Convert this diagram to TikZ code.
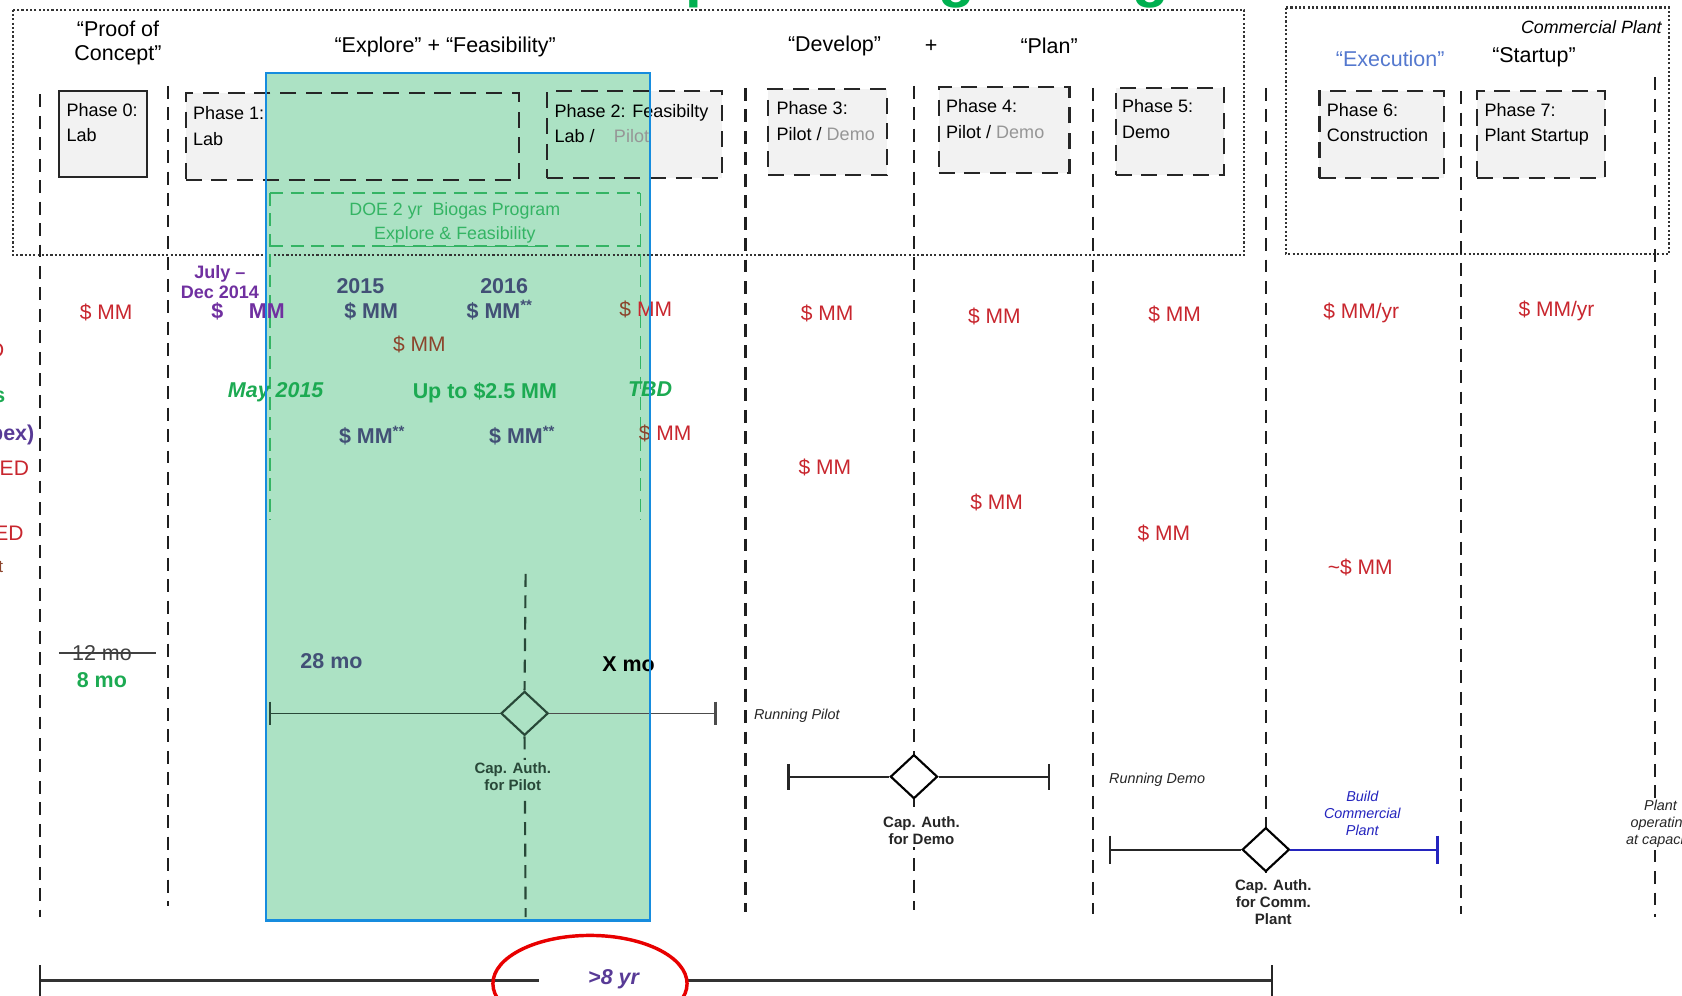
\documentclass[tikz,border=0pt]{standalone}
\usepackage{fontspec}
\setmainfont{Liberation Sans}
\usetikzlibrary{shapes.geometric}
\definecolor{mred}{RGB}{200,38,46}
\definecolor{mbrown}{RGB}{140,68,44}
\definecolor{slate}{RGB}{66,80,118}
\definecolor{gbold}{RGB}{28,170,82}
\definecolor{glight}{RGB}{52,180,100}
\definecolor{gtitle}{RGB}{0,176,80}
\definecolor{purp}{RGB}{112,48,160}
\definecolor{purp2}{RGB}{88,58,150}
\definecolor{execblue}{RGB}{84,120,206}
\definecolor{buildblue}{RGB}{36,36,190}
\definecolor{pgray}{RGB}{150,150,150}
\definecolor{gzfill}{RGB}{172,226,196}
\definecolor{gzborder}{RGB}{22,140,222}
\definecolor{boxgray}{RGB}{242,242,242}
\definecolor{darkg}{RGB}{40,72,56}
\definecolor{ellred}{RGB}{232,0,0}
\pgfdeclarelayer{back}
\pgfdeclarelayer{greenl}
\pgfsetlayers{back,greenl,main}
\begin{document}
\begin{tikzpicture}[x=0.5pt,y=-0.5pt,
  vdash/.style={draw=black!88, line width=1pt, dash pattern=on 6pt off 4pt},
  phasebox/.style={draw=black!85, line width=1pt, dash pattern=on 7.5pt off 4.5pt, rectangle, inner sep=0pt, outer sep=0pt},
  dotbox/.style={draw=black!80, line width=1pt, dash pattern=on 1pt off 1pt},
  doeline/.style={draw=glight, line width=0.8pt, dash pattern=on 6pt off 3.5pt},
  txt/.style={inner sep=0pt, outer sep=0pt},
  head/.style={txt, font=\fontsize{10}{11.5}\selectfont, align=center},
  ph/.style={txt, font=\fontsize{8.4}{12}\selectfont, align=left, anchor=north west},
  money/.style={txt, font=\fontsize{9.8}{11}\selectfont, text=mred},
  sl/.style={txt, font=\bfseries\fontsize{10}{11}\selectfont, text=slate},
  gb/.style={txt, font=\bfseries\fontsize{10}{11}\selectfont, text=gbold},
  gbi/.style={txt, font=\bfseries\itshape\fontsize{10}{11}\selectfont, text=gbold},
  captxt/.style={txt, font=\bfseries\fontsize{7}{8}\selectfont, align=center, text=black!85, inner sep=1pt},
  run/.style={txt, font=\itshape\fontsize{6.7}{8}\selectfont, text=black!85},
  bar/.style={draw=black!85, line width=1pt},
  tickline/.style={draw=black!85, line width=1pt},
  dia/.style={diamond, draw=black, line width=1pt, inner sep=0pt, minimum width=22pt, minimum height=20.5pt, fill=white},
  ttl/.style={txt, font=\bfseries\fontsize{28}{30}\selectfont, text=gtitle, anchor=base},
]
\useasboundingbox (0,0) rectangle (1568,928);

% cut-off title letters at the top edge (cropped in the reference)
\node[ttl] (tp) at (656,-4) {p};
\node[ttl] (tg1) at (892,-4) {g};
\node[ttl] (tg2) at (1073,-4) {g};

% green zone fill
\coordinate (gzA) at (248,68);
\coordinate (gzB) at (606,858);
\begin{pgfonlayer}{greenl}
\fill[gzfill] (gzA) rectangle (gzB);
\end{pgfonlayer}

% dotted group boxes
\draw[dotbox] (12,9) rectangle (1160,238);
\draw[dotbox] (1199,7) rectangle (1556,237);

% vertical dashed separators
\foreach \n/\x/\a/\b in {0/37/88/855, 1/157/80/845, 2/695/82/850, 3/852/80/848, 4/1019/82/852, 5/1180/82/850, 6/1362/85/852, 7/1543/72/855}{
  \coordinate (vt\n) at (\x,\a);
  \coordinate (vb\n) at (\x,\b);
  \draw[vdash] (vt\n) -- (vb\n);
}

% phase boxes
\node[phasebox, solid, line width=1pt, minimum width=41pt, minimum height=40pt] (p0) at (96,125) {};
\node[phasebox, minimum width=155.5pt, minimum height=40.5pt] (p1) at (328.5,127.5) {};
\node[phasebox, minimum width=81.5pt, minimum height=40.5pt] (p2) at (591.5,125.5) {};
\node[phasebox, minimum width=55.5pt, minimum height=40pt] (p3) at (771.5,123) {};
\node[phasebox, minimum width=61pt, minimum height=40pt] (p4) at (936,121) {};
\node[phasebox, minimum width=50.5pt, minimum height=40.5pt] (p5) at (1090.5,122.5) {};
\node[phasebox, minimum width=58pt, minimum height=40.5pt] (p6) at (1288,125.5) {};
\node[phasebox, minimum width=59.5pt, minimum height=40.5pt] (p7) at (1436.5,125.5) {};
\begin{pgfonlayer}{back}
\foreach \p in {p0,p1,p2,p3,p4,p5,p6,p7}{
  \fill[boxgray] (\p.south west) rectangle (\p.north east);
}
\end{pgfonlayer}

\node[ph] (p0t) at (62,96) {Phase 0:\\Lab};
\node[ph] (p1t) at (180,99) {Phase 1:\\Lab};
\node[ph] (p2t) at (517,97) {Phase 2: Feasibilty\\Lab /\hspace{9pt}\textcolor{pgray}{Pilot}};
\node[ph] (p3t) at (724,95) {Phase 3:\\Pilot / \textcolor{pgray}{Demo}};
\node[ph] (p4t) at (882,93) {Phase 4:\\Pilot / \textcolor{pgray}{Demo}};
\node[ph] (p5t) at (1046,93) {Phase 5:\\Demo};
\node[ph] (p6t) at (1237,96) {Phase 6:\\Construction};
\node[ph] (p7t) at (1384,96) {Phase 7:\\Plant Startup};

% headings
\node[head] (hpc) at (110,40) {“Proof of\\Concept”};
\node[head] (hef) at (415,44) {“Explore” + “Feasibility”};
\node[head] (hdev) at (778,43) {“Develop”};
\node[head] (hplus) at (868,43) {+};
\node[head] (hplan) at (978,43) {“Plan”};
\node[txt, font=\itshape\fontsize{8.3}{10}\selectfont, anchor=east] (hcp) at (1549,25) {Commercial Plant};
\node[head, text=execblue] (hexe) at (1296,55) {“Execution”};
\node[head] (hsu) at (1430,53) {“Startup”};

% DOE program box
\coordinate (dA) at (252,180);
\coordinate (dB) at (597,180);
\coordinate (dC) at (252,229);
\coordinate (dD) at (597,229);
\coordinate (dE) at (252,485);
\coordinate (dF) at (597,485);
\draw[doeline] (dA) -- (dB);
\draw[doeline] (dC) -- (dD);
\draw[doeline] (dA) -- (dE);
\draw[doeline] (dB) -- (dF);
\node[txt, font=\fontsize{8.3}{10}\selectfont, text=glight] (doe1) at (424,197) {DOE 2 yr\ \ Biogas Program};
\node[txt, font=\fontsize{8.3}{10}\selectfont, text=glight] (doe2) at (424,221) {\underline{Explore \& Feasibility}};

% left cut-off row labels (cropped in the reference)
\node[money, anchor=east] (lc1) at (4,327) {R\&D};
\node[gb, anchor=east] (lc2) at (5,368) {Milestones};
\node[txt, font=\bfseries\fontsize{10}{11}\selectfont, text=purp2, anchor=east] (lc3) at (32,405) {(Capex)};
\node[money, anchor=east] (lc4) at (27,437) {FUNDED};
\node[money, anchor=east] (lc5) at (22,497) {FUNDED};
\node[txt, font=\fontsize{8}{9}\selectfont, text=mbrown, anchor=east] (lc6) at (3,528) {Cost};

% money rows
\node[money] (m0) at (99,291) {\$ MM};
\node[txt, font=\bfseries\fontsize{8.4}{9.5}\selectfont, text=purp, align=center] (jul) at (205,263) {July –\\Dec 2014};
\node[txt, font=\bfseries\fontsize{10}{11}\selectfont, text=purp, anchor=west] (jm) at (197,290) {\$\hspace{12pt}MM};
\node[sl] (y15) at (336,267) {2015};
\node[sl] (m15) at (346,290) {\$ MM};
\node[sl] (y16) at (470,267) {2016};
\node[sl] (m16) at (466,289) {\$ MM\textsuperscript{**}};
\node[txt, font=\fontsize{9.8}{11}\selectfont, text=mbrown] (mb) at (391,321) {\$ MM};
\node[money] (m2) at (602,288) {\textcolor{mbrown}{\$} MM};
\node[gbi] (may) at (257,366) {May 2015};
\node[gb] (upto) at (452,366) {Up to \$2.5 MM};
\node[gbi] (tbd) at (606,363) {TBD};
\node[sl] (m15b) at (347,406) {\$ MM\textsuperscript{**}};
\node[sl] (m16b) at (487,406) {\$ MM\textsuperscript{**}};
\node[money] (m2b) at (620,404) {\textcolor{mbrown}{\$} MM};
\node[money] (m3) at (771,292) {\$ MM};
\node[money] (m4) at (927,295) {\$ MM};
\node[money] (m5) at (1095,293) {\$ MM};
\node[money] (m6) at (1269,292) {\$ MM/yr};
\node[money] (m7) at (1451,290) {\$ MM/yr};
\node[money] (m3b) at (769,436) {\$ MM};
\node[money] (m4b) at (929,468) {\$ MM};
\node[money] (m5b) at (1085,497) {\$ MM};
\node[money] (m6b) at (1268,529) {\textasciitilde\$ MM};

% durations
\coordinate (s1) at (55,609);
\coordinate (s2) at (145,609);
\node[txt, font=\fontsize{10}{11}\selectfont, text=black!75] (d12) at (95,609) {12 mo};
\draw[black!75, line width=0.8pt] (s1) -- (s2);
\node[gb] (d8) at (95,634) {8 mo};
\node[sl] (d28) at (309,616) {28 mo};
\node[txt, font=\bfseries\fontsize{10}{11}\selectfont] (dx) at (586,619) {X mo};

% bar 1 : cap. auth. for pilot
\coordinate (cpt) at (490,535);
\coordinate (cpb) at (490,855);
\coordinate (b1l) at (252,665);
\coordinate (b1r) at (667,665);
\node[dia, fill=gzfill, draw=darkg] (d1) at (489,665) {};
\draw[vdash, draw=darkg] (cpt) -- (d1.north);
\draw[vdash, draw=darkg] (d1.south) -- (cpb);
\draw[bar, line width=0.8pt, draw=darkg] (b1l) -- (d1.west);
\draw[bar, line width=0.8pt, draw=black!70] (d1.east) -- (b1r);
\draw[tickline, draw=darkg] ([yshift=5.5pt]b1l) -- ([yshift=-5.5pt]b1l);
\draw[tickline, draw=black!70] ([yshift=5.5pt]b1r) -- ([yshift=-5.5pt]b1r);
\node[captxt, fill=gzfill, text=darkg] (cap1) at (478,724) {Cap. Auth.\\for Pilot};

% bar 2 : cap. auth. for demo
\coordinate (b2l) at (735,724);
\coordinate (b2r) at (978,724);
\node[dia] (d2) at (852,724) {};
\draw[bar] (b2l) -- (d2.west);
\draw[bar] (d2.east) -- (b2r);
\draw[tickline] ([yshift=6pt]b2l) -- ([yshift=-6pt]b2l);
\draw[tickline] ([yshift=6pt]b2r) -- ([yshift=-6pt]b2r);
\node[captxt, fill=white] (cap2) at (859,774) {Cap. Auth.\\for Demo};

% bar 3 : cap. auth. for commercial plant
\coordinate (b3l) at (1035,792);
\coordinate (b3r) at (1340,792);
\node[dia] (d3) at (1180,792) {};
\draw[bar] (b3l) -- (d3.west);
\draw[bar, draw=buildblue] (d3.east) -- (b3r);
\draw[tickline] ([yshift=6.5pt]b3l) -- ([yshift=-6.5pt]b3l);
\draw[tickline, draw=buildblue] ([yshift=6.5pt]b3r) -- ([yshift=-6.5pt]b3r);
\node[captxt, fill=white] (cap3) at (1187,841) {Cap. Auth.\\for Comm.\\Plant};

\node[txt, font=\itshape\fontsize{6.7}{8}\selectfont, text=buildblue, align=center] (build) at (1270,758) {Build\\Commercial\\Plant};
\node[run, anchor=west] (rp) at (703,667) {Running Pilot};
\node[run, anchor=west] (rd) at (1034,727) {Running Demo};
\node[run, align=center, fill=white, inner sep=1pt] (pop) at (1548,768) {Plant\\operating\\at capacity};

% overall duration
\coordinate (bl) at (37,914);
\coordinate (bm1) at (502,914);
\coordinate (bm2) at (640,914);
\coordinate (br) at (1186,914);
\draw[line width=1.2pt, draw=black!80] (bl) -- (bm1);
\draw[line width=1.2pt, draw=black!80] (bm2) -- (br);
\draw[tickline] ([yshift=7pt]bl) -- ([yshift=-8pt]bl);
\draw[tickline] ([yshift=7pt]br) -- ([yshift=-8pt]br);
\node[txt, font=\bfseries\itshape\fontsize{10}{11}\selectfont, text=purp2] (eight) at (572,913) {>8 yr};
\node[ellipse, draw=ellred, line width=1.6pt, minimum width=90.5pt, minimum height=45pt, inner sep=0pt] (ell) at (550,917) {};

% green zone border on top
\draw[gzborder, line width=1.1pt] (gzA) rectangle (gzB);
\end{tikzpicture}
\end{document}
